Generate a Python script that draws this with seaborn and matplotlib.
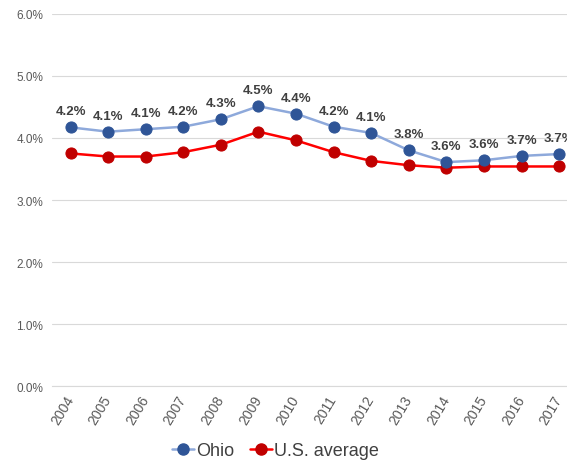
import matplotlib
matplotlib.use("Agg")
import matplotlib.pyplot as plt
import seaborn as sns
import pandas as pd
import numpy as np
from matplotlib.lines import Line2D

years = ["2004", "2005", "2006", "2007", "2008", "2009", "2010",
         "2011", "2012", "2013", "2014", "2015", "2016", "2017"]
ohio = [4.17, 4.10, 4.14, 4.18, 4.30, 4.51, 4.39, 4.18, 4.08, 3.80, 3.61, 3.64, 3.71, 3.74]
ohio_labels = ["4.2%", "4.1%", "4.1%", "4.2%", "4.3%", "4.5%", "4.4%",
               "4.2%", "4.1%", "3.8%", "3.6%", "3.6%", "3.7%", "3.7%"]
us_avg = [3.75, 3.70, 3.70, 3.77, 3.89, 4.10, 3.96, 3.77, 3.63, 3.56, 3.52, 3.54, 3.54, 3.54]
series_names = ["Ohio", "U.S. average"]
y_ticks = [0, 1, 2, 3, 4, 5, 6]

sns.set_style("white")
plt.rcParams["font.family"] = ["Liberation Sans", "DejaVu Sans"]

idx = np.arange(len(years))
df_ohio = pd.DataFrame({"x": idx, "y": ohio})
df_us = pd.DataFrame({"x": idx, "y": us_avg})

fig = plt.figure(figsize=(5.67, 4.64), dpi=100)
ax = fig.add_axes([0.0912, 0.1653, 0.928, 0.803])

ohio_line = "#8EA9DB"
ohio_mark = "#2F5597"
us_line = "#FF0000"
us_mark = "#C00000"

sns.lineplot(data=df_us, x="x", y="y", ax=ax, color=us_line, linewidth=1.8,
             marker="o", markersize=8, markerfacecolor=us_mark,
             markeredgecolor=us_mark, zorder=3)
sns.lineplot(data=df_ohio, x="x", y="y", ax=ax, color=ohio_line, linewidth=1.8,
             marker="o", markersize=8, markerfacecolor=ohio_mark,
             markeredgecolor=ohio_mark, zorder=4)

for i, (v, lab) in enumerate(zip(ohio, ohio_labels)):
    ax.annotate(lab, (i, v), xytext=(0, 11.5), textcoords="offset points",
                ha="center", va="center", fontsize=9.5, fontweight="bold",
                color="#404040", zorder=5)

ax.set_xlim(-0.5, len(years) - 0.5)
ax.set_ylim(0, 6)
ax.set_yticks(y_ticks)
ax.set_yticklabels([f"{t:.1f}%" for t in y_ticks], fontsize=8.5, color="#595959")
ax.tick_params(axis="y", length=0, pad=6)
ax.set_xticks(idx)
ax.set_xticklabels(years, rotation=59, ha="right", va="center",
                   rotation_mode="anchor", fontsize=10, color="#595959")
ax.tick_params(axis="x", which="major", length=0, pad=7)
ax.set_xticks(np.arange(-0.5, len(years), 1.0), minor=True)
ax.tick_params(axis="x", which="minor", length=5, color="#D9D9D9", width=0.8)
ax.set_xlabel("")
ax.set_ylabel("")
ax.grid(axis="y", color="#D9D9D9", linewidth=0.8)
ax.set_axisbelow(True)
for s in ["top", "right", "left"]:
    ax.spines[s].set_visible(False)
ax.spines["bottom"].set_color("#D9D9D9")
ax.spines["bottom"].set_linewidth(0.8)

handles = [
    Line2D([0], [0], color=ohio_line, lw=1.8, marker="o", markersize=8,
           markerfacecolor=ohio_mark, markeredgecolor=ohio_mark),
    Line2D([0], [0], color=us_line, lw=1.8, marker="o", markersize=8,
           markerfacecolor=us_mark, markeredgecolor=us_mark),
]
fig.legend(handles, series_names, loc="center", bbox_to_anchor=(275.5 / 567, 1 - 451.7 / 464),
           ncol=2, frameon=False, fontsize=13, handlelength=1.2, handletextpad=0.1,
           columnspacing=0.9, labelcolor="#404040")

fig.savefig("out.png", dpi=100)
